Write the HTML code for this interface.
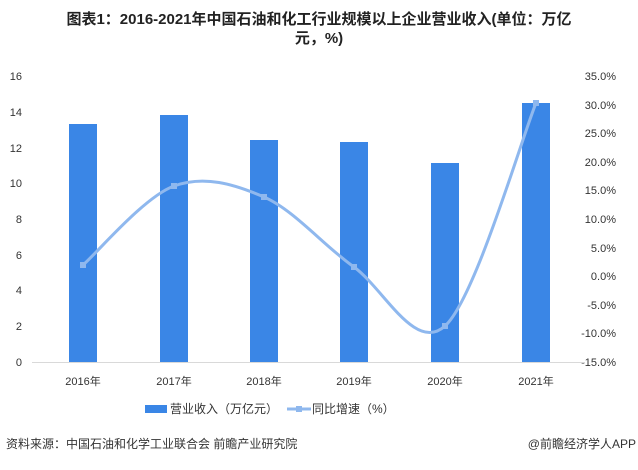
<!DOCTYPE html>
<html><head><meta charset="utf-8"><style>
body{margin:0;background:#fff;width:638px;height:465px;overflow:hidden;font-family:"Liberation Sans","Noto Sans CJK SC",sans-serif}
</style></head><body>
<svg width="638" height="465" xmlns="http://www.w3.org/2000/svg" font-family="Liberation Sans, Noto Sans CJK SC, sans-serif">
<text x="319" y="24" text-anchor="middle" font-size="15" font-weight="bold" fill="#222">图表1：2016-2021年中国石油和化工行业规模以上企业营业收入(单位：万亿</text>
<text x="319" y="43" text-anchor="middle" font-size="15" font-weight="bold" fill="#222">元，%)</text>
<g font-size="11" fill="#333" text-anchor="end">
<text x="22" y="80">16</text><text x="22" y="116">14</text><text x="22" y="152">12</text><text x="22" y="187">10</text><text x="22" y="223">8</text><text x="22" y="259">6</text><text x="22" y="294">4</text><text x="22" y="330">2</text><text x="22" y="366">0</text>
</g>
<g font-size="11" fill="#333" text-anchor="end">
<text x="616" y="80">35.0%</text><text x="616" y="109">30.0%</text><text x="616" y="137">25.0%</text><text x="616" y="166">20.0%</text><text x="616" y="194">15.0%</text><text x="616" y="223">10.0%</text><text x="616" y="252">5.0%</text><text x="616" y="280">0.0%</text><text x="616" y="309">-5.0%</text><text x="616" y="337">-10.0%</text><text x="616" y="366">-15.0%</text>
</g>
<line x1="32" y1="362.5" x2="585" y2="362.5" stroke="#d9d9d9" stroke-width="1"/>
<g fill="#3a86e6">
<rect x="69" y="124" width="28" height="238"/>
<rect x="160" y="115" width="28" height="247"/>
<rect x="250" y="140" width="28" height="222"/>
<rect x="340" y="142" width="28" height="220"/>
<rect x="431" y="163" width="28" height="199"/>
<rect x="522" y="103" width="28" height="259"/>
</g>
<path d="M83,265 C98,252 144,197 174,186 C204,175 234,184 264,197 C294,210 324,246 354,267 C384,289 415,353 445,326 C475,299 521,140 536,103" fill="none" stroke="#8fb8ee" stroke-width="3"/>
<g fill="#8fb8ee">
<rect x="80" y="262" width="6" height="6"/><rect x="171" y="183" width="6" height="6"/><rect x="261" y="194" width="6" height="6"/><rect x="351" y="264" width="6" height="6"/><rect x="442" y="323" width="6" height="6"/><rect x="533" y="100" width="6" height="6"/>
</g>
<g font-size="11" fill="#333" text-anchor="middle">
<text x="83" y="385">2016年</text><text x="174" y="385">2017年</text><text x="264" y="385">2018年</text><text x="354" y="385">2019年</text><text x="445" y="385">2020年</text><text x="536" y="385">2021年</text>
</g>
<rect x="145" y="405" width="22" height="8" fill="#3a86e6"/>
<text x="170" y="413" font-size="12" fill="#333">营业收入（万亿元）</text>
<line x1="287" y1="409" x2="311" y2="409" stroke="#8fb8ee" stroke-width="3"/>
<rect x="296" y="406" width="6" height="6" fill="#8fb8ee"/>
<text x="312" y="413" font-size="12" fill="#333">同比增速（%）</text>
<text x="6" y="448" font-size="12" fill="#333">资料来源：中国石油和化学工业联合会 前瞻产业研究院</text>
<text x="636" y="448" font-size="12" fill="#333" text-anchor="end">@前瞻经济学人APP</text>
</svg>
</body></html>
